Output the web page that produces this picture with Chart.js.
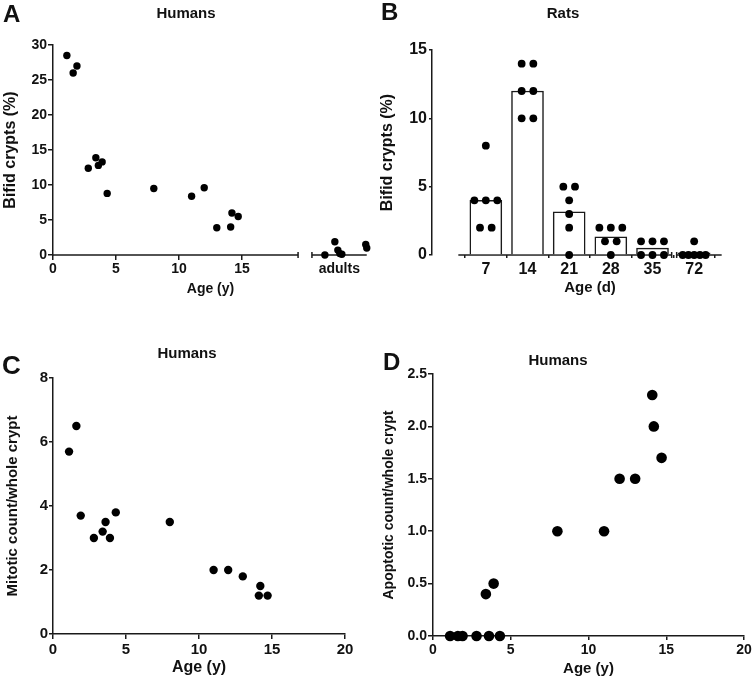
<!DOCTYPE html>
<html>
<head>
<meta charset="utf-8">
<script src="https://cdn.jsdelivr.net/npm/chart.js@4.4.0/dist/chart.umd.min.js"></script>
<style>
  body { margin: 0; background: #fff; }
  #wrap { position: relative; width: 752px; height: 679px; overflow: hidden; font-family: "Liberation Sans", Arial, sans-serif; font-weight: bold; color: #111; }
  canvas { position: absolute; }
  .letter { position: absolute; line-height: 1; }
  .title { position: absolute; width: 200px; text-align: center; font-size: 15px; line-height: 15px; }
</style>
</head>
<body>
<div id="wrap">
  <canvas id="chartA" width="376" height="300" style="left:0;top:0"></canvas>
  <canvas id="chartB" width="376" height="300" style="left:376px;top:0"></canvas>
  <canvas id="chartC" width="370" height="339" style="left:0;top:340px"></canvas>
  <canvas id="chartD" width="384" height="339" style="left:370px;top:340px"></canvas>

  <div class="letter" style="left:3px;top:2px;font-size:24px">A</div>
  <div class="letter" style="left:381px;top:0;font-size:24px">B</div>
  <div class="letter" style="left:2px;top:352px;font-size:26px">C</div>
  <div class="letter" style="left:383px;top:350px;font-size:24px">D</div>

  <div class="title" style="left:86px;top:5px">Humans</div>
  <div class="title" style="left:463px;top:5px">Rats</div>
  <div class="title" style="left:87px;top:345px">Humans</div>
  <div class="title" style="left:458px;top:352px">Humans</div>
</div>
<script>
// human children: age (years) and measurements
const humanAge = [1.1, 1.6, 1.9, 2.8, 3.4, 3.6, 3.9, 4.3, 8, 11, 12, 13, 14.1, 14.2, 14.7];
const bifidHumans = [28.5, 26, 27, 12.4, 13.9, 12.8, 13.3, 8.8, 9.5, 8.4, 9.6, 3.9, 4.0, 6.0, 5.5];
const mitoticHumans = [5.7, 6.5, 3.7, 3.0, 3.2, 3.5, 3.0, 3.8, 3.5, 2.0, 2.0, 1.8, 1.2, 1.5, 1.2];
const apoptoticHumans = [0, 0, 0, 0, 0.4, 0, 0.5, 0, 1.0, 1.0, 1.5, 1.5, 2.3, 2.0, 1.7];

// adults (shown on the broken part of the axis)
const adultAge = [38, 48, 51, 53, 55, 79, 80];
const bifidAdults = [0, 1.9, 0.7, 0.2, 0.1, 1.5, 1.0];

// rats, bifid crypts (%) per age group (days)
const ratAges = ["7", "14", "21", "28", "35", "72"];
const rat7 = [8, 4, 4, 4, 2, 2];
const rat14 = [14, 14, 12, 12, 10, 10];
const rat21 = [5, 5, 4, 3, 2, 0];
const rat28 = [2, 2, 2, 1, 1, 0];
const rat35 = [1, 1, 1, 0, 0, 0];
const rat72 = [1, 0, 0, 0, 0, 0];
const ratGroups = [rat7, rat14, rat21, rat28, rat35, rat72];

const ticksA = [0, 5, 10, 15];
const ticksC = [0, 5, 10, 15, 20];

const axisColor = "#1a1a1a";
const textColor = "#111";
const family = '"Liberation Sans", Arial, sans-serif';
const font = (size) => ({ family: family, weight: "bold", size: size });

// adults segment of panel A: ages 25..80 squeezed into x 20.55..24.9
function adultX(age) {
  return 20.55 + ((age - 25) * (24.9 - 20.55)) / 55;
}
const adultsTick = adultX(52.5);

// axis line drawn in pieces, with small caps at the break
const brokenAxis = {
  id: "brokenAxis",
  beforeDatasetsDraw(chart, args, opts) {
    const x = chart.scales.x;
    const y0 = chart.chartArea.bottom;
    const ctx = chart.ctx;
    ctx.save();
    ctx.strokeStyle = axisColor;
    ctx.lineWidth = 1.5;
    opts.segments.forEach(function (s) {
      ctx.beginPath();
      ctx.moveTo(x.getPixelForValue(s[0]), y0);
      ctx.lineTo(x.getPixelForValue(s[1]), y0);
      ctx.stroke();
    });
    opts.breaks.forEach(function (v) {
      const p = x.getPixelForValue(v);
      ctx.beginPath();
      ctx.moveTo(p, y0 - 3);
      ctx.lineTo(p, y0 + 3);
      ctx.stroke();
    });
    ctx.restore();
  },
};

// spread equal values sideways like a column scatter
function ratPoints() {
  const pts = [];
  ratGroups.forEach(function (vals, i) {
    const counts = {};
    vals.forEach((v) => (counts[v] = (counts[v] || 0) + 1));
    const seen = {};
    vals.forEach(function (v) {
      const n = counts[v];
      const k = seen[v] || 0;
      seen[v] = k + 1;
      const step = n > 1 ? Math.min(0.28, 0.55 / (n - 1)) : 0;
      pts.push({ x: i + (k - (n - 1) / 2) * step, y: v });
    });
  });
  return pts;
}
const ratMeans = ratGroups.map((g) => g.reduce((a, b) => a + b, 0) / g.length);

const common = {
  responsive: false,
  animation: false,
  events: [],
  plugins: { legend: { display: false }, tooltip: { enabled: false } },
};

function yScale(o) {
  return {
    min: o.min,
    max: o.max,
    afterFit: (s) => { s.width = o.width; },
    afterBuildTicks: (s) => { s.ticks = o.ticks.map((v) => ({ value: v })); },
    border: { color: axisColor, width: 1.5 },
    grid: { drawOnChartArea: false, tickLength: o.tickLength, color: axisColor, lineWidth: 1.5 },
    ticks: { font: font(o.size), color: textColor, padding: o.pad, callback: o.fmt || ((v) => v) },
    title: { display: true, text: o.title, font: font(o.titleSize), color: textColor, padding: { top: o.titlePad, bottom: 0 } },
  };
}

// A
new Chart(document.getElementById("chartA"), {
  type: "scatter",
  data: {
    datasets: [
      { data: humanAge.map((a, i) => ({ x: a, y: bifidHumans[i] })), pointRadius: 3.7, backgroundColor: "#000", borderWidth: 0, clip: false },
      { data: adultAge.map((a, i) => ({ x: adultX(a), y: bifidAdults[i] })), pointRadius: 3.7, backgroundColor: "#000", borderWidth: 0, clip: false },
    ],
  },
  options: Object.assign({}, common, {
    layout: { padding: { top: 45, right: 8 } },
    plugins: Object.assign({}, common.plugins, {
      brokenAxis: { segments: [[0, 19.45], [20.55, 24.9]], breaks: [19.45, 20.55] },
    }),
    scales: {
      x: {
        type: "linear",
        min: 0,
        max: 25,
        afterFit: (s) => { s.height = 45; },
        afterBuildTicks: (s) => { s.ticks = ticksA.concat([adultsTick]).map((v) => ({ value: v })); },
        border: { display: false },
        grid: {
          drawOnChartArea: false,
          tickLength: 5,
          lineWidth: 1.5,
          color: axisColor,
          tickColor: (c) => (c.tick && c.tick.value > 20 ? "rgba(0,0,0,0)" : axisColor),
        },
        ticks: { font: font(14), color: textColor, padding: 1, callback: (v) => (v > 20 ? "adults" : v) },
        title: { display: true, text: "Age (y)", font: font(14), color: textColor, padding: { top: 0, bottom: 2 } },
      },
      y: yScale({ min: 0, max: 30, width: 53, ticks: [0, 5, 10, 15, 20, 25, 30], tickLength: 5, size: 14, pad: 1, title: "Bifid crypts (%)", titleSize: 16, titlePad: 1 }),
    },
  }),
  plugins: [brokenAxis],
});

// B
new Chart(document.getElementById("chartB"), {
  type: "bar",
  data: {
    datasets: [
      { type: "scatter", data: ratPoints(), pointRadius: 3.9, backgroundColor: "#000", borderWidth: 0, clip: false, order: 0 },
      {
        type: "bar",
        data: ratMeans.map((m, i) => ({ x: i, y: m })),
        barThickness: 32,
        backgroundColor: "#fff",
        borderColor: axisColor,
        borderWidth: 1.5,
        order: 1,
      },
    ],
  },
  options: Object.assign({}, common, {
    layout: { padding: { top: 50, right: 4 } },
    plugins: Object.assign({}, common.plugins, {
      brokenAxis: { segments: [[-0.66, 4.46], [4.58, 5.66]], breaks: [4.46, 4.58] },
    }),
    scales: {
      x: {
        type: "linear",
        min: -0.66,
        max: 5.66,
        afterFit: (s) => { s.height = 45; },
        afterBuildTicks: (s) => { s.ticks = ratAges.map((v, i) => ({ value: i })); },
        border: { display: false },
        grid: { drawOnChartArea: false, tickLength: 3, lineWidth: 1.5, color: axisColor },
        ticks: { font: font(16), color: textColor, padding: 2, callback: (v) => ratAges[v] },
        title: { display: true, text: "Age (d)", font: font(15), color: textColor, padding: { top: 0, bottom: 3 } },
      },
      y: yScale({ min: 0, max: 15, width: 56, ticks: [0, 5, 10, 15], tickLength: 3, size: 16, pad: 2, title: "Bifid crypts (%)", titleSize: 16, titlePad: 2 }),
    },
  }),
  plugins: [brokenAxis],
});

function xScale(o) {
  return {
    type: "linear",
    min: 0,
    max: 20,
    afterFit: (s) => { s.height = o.height; },
    afterBuildTicks: (s) => { s.ticks = ticksC.map((v) => ({ value: v })); },
    border: { color: axisColor, width: 1.5 },
    grid: { drawOnChartArea: false, tickLength: o.tickLength, color: axisColor, lineWidth: 1.5 },
    ticks: { font: font(o.size), color: textColor, padding: 2 },
    title: { display: true, text: "Age (y)", font: font(o.titleSize), color: textColor, padding: { top: 0, bottom: o.titlePad } },
  };
}

// C
new Chart(document.getElementById("chartC"), {
  type: "scatter",
  data: {
    datasets: [
      { data: humanAge.map((a, i) => ({ x: a, y: mitoticHumans[i] })), pointRadius: 4.2, backgroundColor: "#000", borderWidth: 0, clip: false },
    ],
  },
  options: Object.assign({}, common, {
    layout: { padding: { top: 38, right: 25 } },
    scales: {
      x: xScale({ height: 45, tickLength: 5, size: 15, titleSize: 16, titlePad: 2 }),
      y: yScale({ min: 0, max: 8, width: 53, ticks: [0, 2, 4, 6, 8], tickLength: 4, size: 15, pad: 1, title: "Mitotic count/whole crypt", titleSize: 15, titlePad: 4 }),
    },
  }),
});

// D
new Chart(document.getElementById("chartD"), {
  type: "scatter",
  data: {
    datasets: [
      { data: humanAge.map((a, i) => ({ x: a, y: apoptoticHumans[i] })), pointRadius: 5.3, backgroundColor: "#000", borderWidth: 0, clip: false },
    ],
  },
  options: Object.assign({}, common, {
    layout: { padding: { top: 34, right: 10 } },
    scales: {
      x: xScale({ height: 43, tickLength: 4, size: 14, titleSize: 15, titlePad: 1 }),
      y: yScale({ min: 0, max: 2.5, width: 63, ticks: [0, 0.5, 1, 1.5, 2, 2.5], tickLength: 5, size: 14, pad: 1, title: "Apoptotic count/whole crypt", titleSize: 14, titlePad: 11, fmt: (v) => v.toFixed(1) }),
    },
  }),
});
</script>
</body>
</html>
